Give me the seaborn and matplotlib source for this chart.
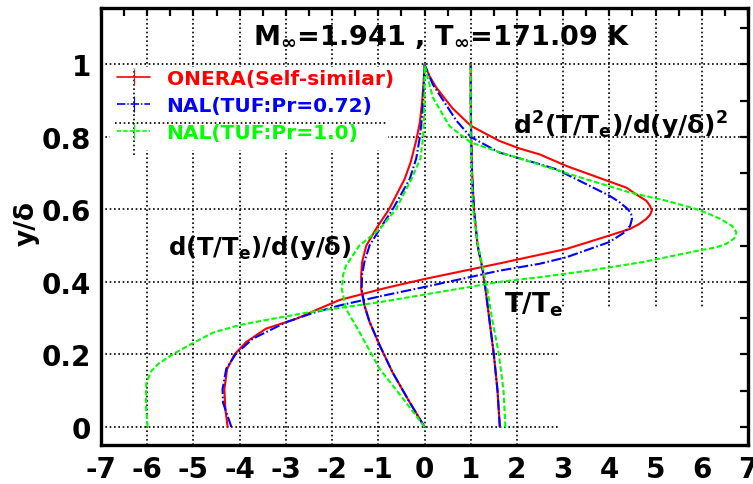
import numpy as np
import pandas as pd
import matplotlib
matplotlib.use("Agg")
import matplotlib.pyplot as plt
import seaborn as sns
from matplotlib.lines import Line2D
from matplotlib.patches import Rectangle
from matplotlib.ticker import MultipleLocator, FixedLocator

sns.set_theme(style="white")
plt.rcParams["font.family"] = ["DejaVu Sans"]
plt.rcParams["font.weight"] = "bold"
plt.rcParams["mathtext.fontset"] = "dejavusans"
plt.rcParams["mathtext.default"] = "bf"
for k in ["text.color", "axes.labelcolor", "xtick.color", "ytick.color", "axes.edgecolor"]:
    plt.rcParams[k] = "black"

# ---------------- data ----------------
models = ["ONERA(Self-similar)", "NAL(TUF:Pr=0.72)", "NAL(TUF:Pr=1.0)"]
colors = ["#ff0000", "#0000ff", "#00ff00"]

# T/Te
onera_T_y = [0, 0.1, 0.2, 0.3, 0.38, 0.44, 0.5, 0.6, 0.7, 0.8, 0.9, 1.0]
onera_T_x = [1.63, 1.58, 1.5, 1.4, 1.32, 1.25, 1.15, 1.07, 1.03, 1.01, 1.0, 1.0]
nal72_T_y = [0, 0.1, 0.2, 0.3, 0.38, 0.44, 0.5, 0.6, 0.7, 0.8, 0.9, 1.0]
nal72_T_x = [1.63, 1.58, 1.5, 1.4, 1.32, 1.25, 1.15, 1.07, 1.03, 1.01, 1.0, 1.0]
nal10_T_y = [0, 0.1, 0.2, 0.3, 0.38, 0.44, 0.5, 0.6, 0.7, 0.8, 0.9, 1.0]
nal10_T_x = [1.75, 1.71, 1.61, 1.46, 1.36, 1.26, 1.16, 1.05, 1.02, 1.0, 1.0, 1.0]

# d(T/Te)/d(y/delta)
onera_d1_y = [0, 0.07, 0.15, 0.225, 0.29, 0.335, 0.38, 0.42, 0.455, 0.5, 0.546, 0.6, 0.684,
              0.73, 0.79, 0.84, 0.9, 0.95, 1.0]
onera_d1_x = [0, -0.33, -0.69, -0.97, -1.19, -1.3, -1.37, -1.37, -1.35, -1.26, -1.05, -0.77, -0.43,
              -0.3, -0.18, -0.1, -0.05, -0.02, 0]
nal72_d1_y = [0, 0.07, 0.15, 0.225, 0.29, 0.335, 0.38, 0.42, 0.455, 0.5, 0.546, 0.6, 0.684,
              0.74, 0.8, 0.86, 0.93, 1.0]
nal72_d1_x = [0, -0.33, -0.69, -0.97, -1.19, -1.3, -1.36, -1.35, -1.3, -1.19, -0.97, -0.69, -0.32,
              -0.18, -0.1, -0.05, -0.02, 0]
nal10_d1_y = [0, 0.087, 0.16, 0.262, 0.326, 0.381, 0.42, 0.445, 0.5, 0.546, 0.6, 0.684, 0.74,
              0.8, 0.89, 1.0]
nal10_d1_x = [0, -0.52, -0.97, -1.41, -1.7, -1.79, -1.76, -1.7, -1.41, -0.97, -0.62, -0.28, -0.09,
              -0.03, 0, 0]

# d2(T/Te)/d(y/delta)2
onera_d2_y = [0, 0.05, 0.104, 0.16, 0.2, 0.234, 0.271, 0.298, 0.325, 0.35, 0.383, 0.408, 0.451, 0.475,
              0.491, 0.528, 0.546, 0.56, 0.574, 0.585, 0.597, 0.61, 0.624, 0.64, 0.66, 0.72, 0.752,
              0.768, 0.789, 0.831, 0.88, 0.937, 0.97, 1.0]
onera_d2_x = [-4.26, -4.31, -4.33, -4.27, -4.11, -3.86, -3.43, -2.78, -2.3, -1.84, -0.85, 0, 1.62, 2.49,
              3.07, 4.0, 4.44, 4.65, 4.8, 4.88, 4.92, 4.88, 4.8, 4.6, 4.37, 3.07, 2.49,
              2.06, 1.62, 1.0, 0.6, 0.25, 0.1, 0]
nal72_d2_y = [0, 0.067, 0.104, 0.16, 0.2, 0.243, 0.289, 0.315, 0.335, 0.362, 0.386, 0.431, 0.45, 0.468,
              0.51, 0.537, 0.555, 0.574, 0.588, 0.601, 0.62, 0.638, 0.711, 0.725, 0.757, 0.8, 0.845,
              0.945, 1.0]
nal72_d2_x = [-4.18, -4.36, -4.37, -4.29, -4.09, -3.72, -2.99, -2.4, -1.84, -0.9, 0, 1.62, 2.49, 3.07,
              4.0, 4.33, 4.45, 4.49, 4.47, 4.4, 4.22, 4.0, 2.85, 2.49, 1.62, 1.0, 0.69,
              0.18, 0]
nal10_d2_y = [0, 0.06, 0.12, 0.153, 0.175, 0.2, 0.225, 0.26, 0.281, 0.295, 0.318, 0.344, 0.372, 0.40,
              0.413, 0.432, 0.455, 0.487, 0.495, 0.505, 0.52, 0.537, 0.555, 0.574, 0.588, 0.601, 0.624,
              0.647, 0.695, 0.744, 0.758, 0.785, 0.83, 0.909, 1.0]
nal10_d2_x = [-5.99, -6.03, -6.02, -5.92, -5.75, -5.45, -5.1, -4.58, -4.0, -3.43, -2.42, -0.97, 0.32, 1.62,
              2.49, 3.6, 4.73, 5.95, 6.3, 6.53, 6.7, 6.75, 6.65, 6.4, 6.15, 5.88, 5.23,
              4.44, 3.2, 1.98, 1.62, 1.0, 0.54, 0.18, 0]

x_ticks = list(range(-7, 8))
y_ticks = [0, 0.2, 0.4, 0.6, 0.8, 1.0]
y_tick_labels = ["0", "0.2", "0.4", "0.6", "0.8", "1"]

# ---------------- build long table ----------------
series = [
    (models[0], "T", onera_T_x, onera_T_y), (models[0], "d1", onera_d1_x, onera_d1_y), (models[0], "d2", onera_d2_x, onera_d2_y),
    (models[1], "T", nal72_T_x, nal72_T_y), (models[1], "d1", nal72_d1_x, nal72_d1_y), (models[1], "d2", nal72_d2_x, nal72_d2_y),
    (models[2], "T", nal10_T_x, nal10_T_y), (models[2], "d1", nal10_d1_x, nal10_d1_y), (models[2], "d2", nal10_d2_x, nal10_d2_y),
]
rows = []
for m, q, xs, ys in series:
    for xv, yv in zip(xs, ys):
        rows.append({"model": m, "quantity": q, "x": xv, "y": yv})
df = pd.DataFrame(rows)

dash_styles = {models[0]: "", models[1]: (5, 1.2, 0.8, 1.2), models[2]: (2.6, 1.2)}
palette = dict(zip(models, colors))

# ---------------- figure ----------------
fig = plt.figure(figsize=(7.53, 4.85), dpi=100)
rect = [101 / 753, 1 - 446 / 485, 647 / 753, (446 - 9.3) / 485]
ax = fig.add_axes(rect)
xlim = (-7, 7)
ylim = (-0.05, 1.155)

# white patches that mask the grid (legend area, lower-right area)
ax.add_patch(Rectangle((-6.8, 0.765), 6.0, 0.228, facecolor="white", edgecolor="none", zorder=1))
ax.add_patch(Rectangle((2.88, -0.06), 4.2, 0.39, facecolor="white", edgecolor="none", zorder=1))
# stray dotted grid fragments visible inside the legend area
grid_style = dict(color="black", linestyle=(0, (1, 1.6)), linewidth=1.2, zorder=1.2)
ax.hlines(0.838, -6.69, -0.82, **grid_style)
ax.vlines(-6.28, 0.75, 0.99, **grid_style)

sns.lineplot(data=df, x="x", y="y", hue="model", style="model", units="quantity",
             estimator=None, sort=False, palette=palette, dashes=dash_styles,
             hue_order=models, style_order=models, linewidth=1.5, legend=False, ax=ax, zorder=2)

ax.set_xlim(*xlim)
ax.set_ylim(*ylim)
ax.set_xticks(x_ticks)
ax.set_yticks(y_ticks)
ax.grid(True, color="black", linestyle=(0, (1, 1.6)), linewidth=1.2)
ax.tick_params(length=0, labelleft=False, labelbottom=False)
for s in ax.spines.values():
    s.set_visible(False)
ax.set_xlabel("")
ax.set_ylabel("")

# overlay axes for frame and ticks
ax2 = fig.add_axes(rect)
ax2.set_xlim(*xlim)
ax2.set_ylim(*ylim)
ax2.patch.set_visible(False)
ax2.xaxis.set_major_locator(FixedLocator(x_ticks))
ax2.xaxis.set_minor_locator(MultipleLocator(0.5))
ax2.yaxis.set_major_locator(FixedLocator(y_ticks))
ax2.yaxis.set_minor_locator(MultipleLocator(0.1))
ax2.set_xticklabels([str(t) for t in x_ticks])
ax2.set_yticklabels(y_tick_labels)
ax2.tick_params(which="both", direction="in", top=True, right=True, length=6, width=1.6,
                color="black", labelcolor="black", labelsize=20, pad=7)
for lab in ax2.get_xticklabels() + ax2.get_yticklabels():
    lab.set_fontweight("bold")
for s in ax2.spines.values():
    s.set_visible(True)
    s.set_color("black")
    s.set_linewidth(2.4)

# legend
handles = [Line2D([], [], color=colors[i], linewidth=1.2,
                  linestyle=["-", (0, (5, 1.2, 0.8, 1.2)), (0, (2.6, 1.2))][i],
                  marker="|", markersize=11, markeredgewidth=0.8, markeredgecolor=colors[i])
           for i in range(3)]
leg = ax2.legend(handles, models, loc="upper left", bbox_to_anchor=(0.025, 0.862),
                 frameon=False, borderpad=0, borderaxespad=0, fontsize=14.5,
                 handlelength=1.65, handletextpad=0.8, labelspacing=0.42)
for t, c in zip(leg.get_texts(), colors):
    t.set_color(c)
    t.set_fontweight("bold")

# annotations
ax2.text(-3.71, 1.056, r"M$_\infty$=1.941 , T$_\infty$=171.09 K", fontsize=19.5,
         fontweight="bold", ha="left", va="baseline")
ax2.text(1.92, 0.808, r"d$^2$(T/T$_e$)/d(y/δ)$^2$", fontsize=18, fontweight="bold",
         ha="left", va="baseline")
ax2.text(-5.56, 0.477, r"d(T/T$_e$)/d(y/δ)", fontsize=17.5, fontweight="bold",
         ha="left", va="baseline")
ax2.text(1.73, 0.317, r"T/T$_e$", fontsize=19, fontweight="bold", ha="left", va="baseline")

fig.text(27 / 753, 1 - 223.5 / 485, "y/δ", rotation=90, fontsize=19, fontweight="bold",
         ha="center", va="center")

fig.savefig("out.png", dpi=100)
